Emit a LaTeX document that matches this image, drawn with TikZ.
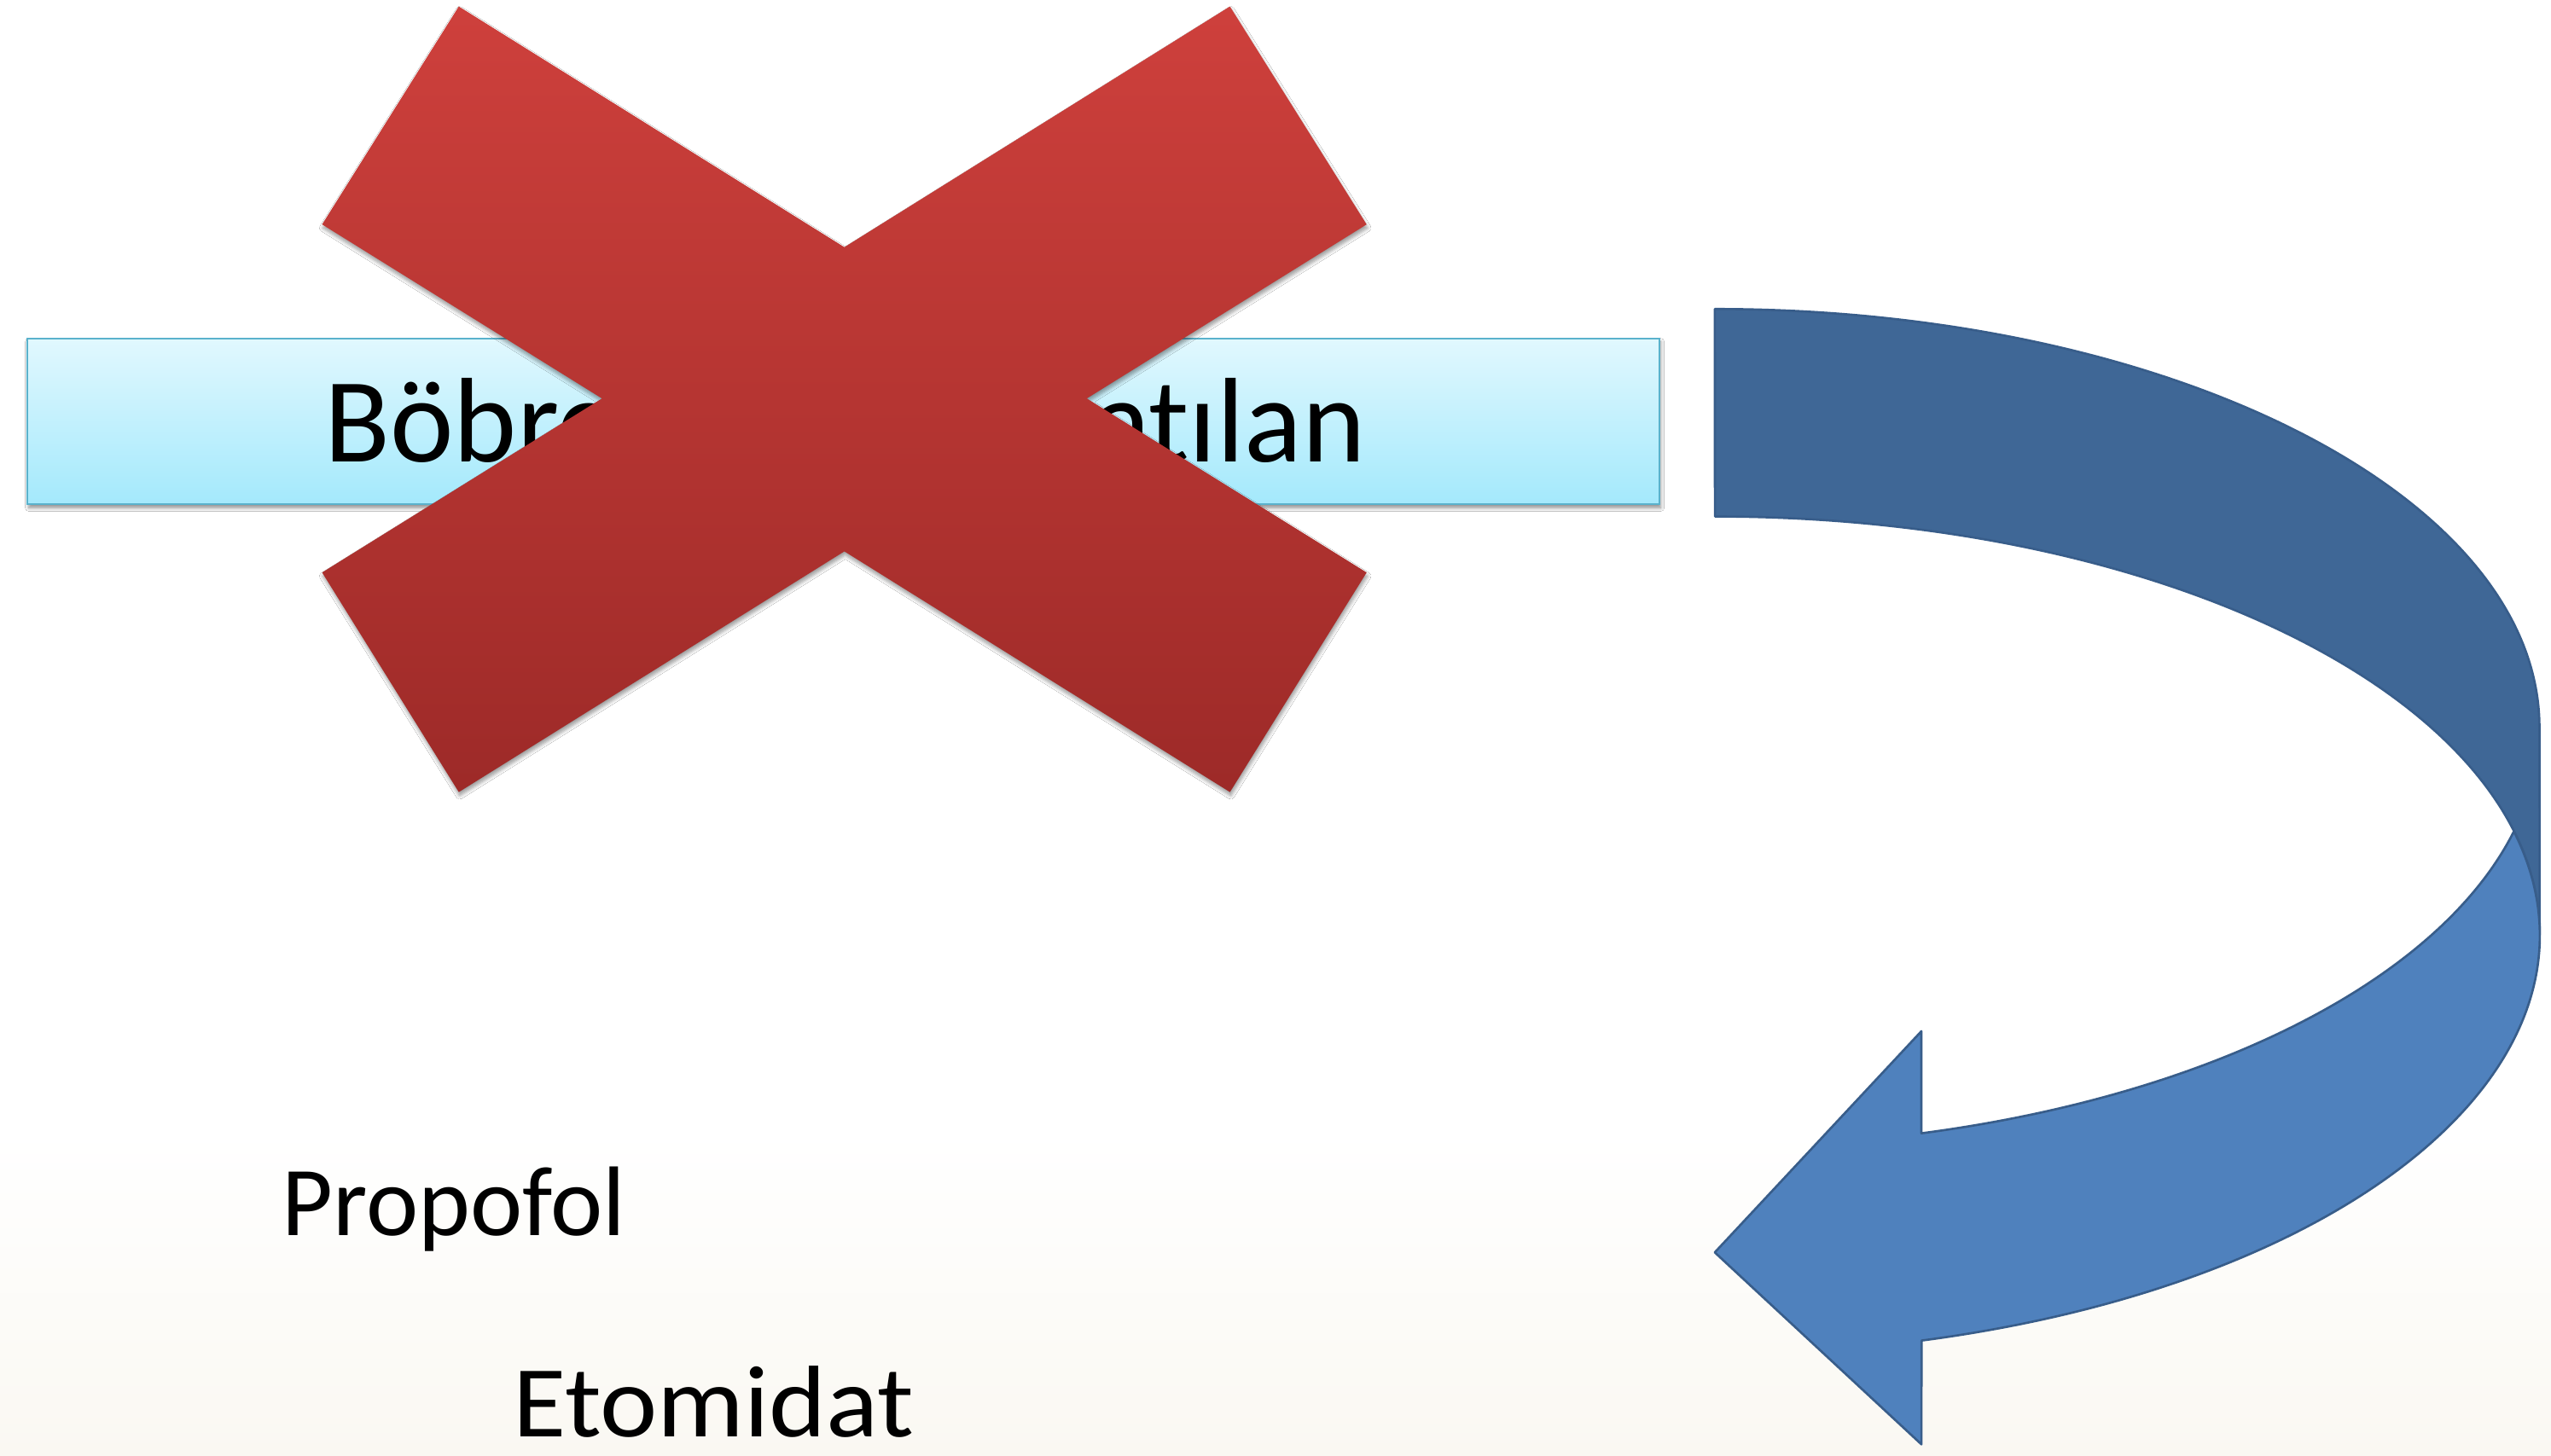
\documentclass[tikz,border=0pt]{standalone}
\usepackage{fontspec}
\setmainfont{Carlito}[Ligatures={NoCommon}]
\usetikzlibrary{shadows.blur}
\definecolor{bgbot}{RGB}{250,248,242}
\definecolor{boxtop}{RGB}{225,248,254}
\definecolor{boxbot}{RGB}{164,233,252}
\definecolor{boxline}{RGB}{90,178,204}
\definecolor{xtop}{RGB}{206,64,60}
\definecolor{xbot}{RGB}{157,42,40}
\definecolor{arrdark}{RGB}{63,103,150}
\definecolor{arrlight}{RGB}{79,129,189}
\definecolor{arrline}{RGB}{56,93,138}
\begin{document}
\begin{tikzpicture}[x=0.0190689cm, y=0.0190689cm,
  boxstyle/.style={draw=boxline, line width=0.6pt, top color=boxtop, bottom color=boxbot,
    blur shadow={shadow xshift=0.4pt, shadow yshift=-1.2pt, shadow blur radius=1.2pt, shadow blur steps=6, shadow opacity=45}},
  crossstyle/.style={top color=xtop, bottom color=xbot,
    blur shadow={shadow xshift=0.3pt, shadow yshift=-1.2pt, shadow blur radius=1.2pt, shadow blur steps=6, shadow opacity=40}},
  darkpart/.style={draw=arrline, fill=arrdark, line width=0.75pt, line join=round},
  lightpart/.style={draw=arrline, fill=arrlight, line width=0.75pt, line join=round},
  txt/.style={inner sep=0pt, text=black}]
\def\rx{9.66793cm}
\def\ry{4.91024cm}
\useasboundingbox (0,0) rectangle (1568,895);
\fill[white] (0,0) rectangle (1568,895);
\shade[top color=white, bottom color=bgbot] (0,0) rectangle (1568,200);

% blue box
\path[boxstyle] (17,585) rectangle (1020,687);
\node[txt, anchor=base, font=\fontsize{40.2}{48}\selectfont] (lbl) at (519.5,611) {Böbrek yoluyla\hspace{15pt}atılan};

% red cross
\path[crossstyle] (282,891) -- (519,743) -- (756,891) -- (840,757) -- (668,650) -- (840,543)
  -- (756,408) -- (519,556) -- (282,408) -- (198,543) -- (370,650) -- (198,757) -- cycle;

% texts
\node[txt, anchor=base west, font=\fontsize{33}{40}\selectfont] (prop) at (173,135.5) {Propofol};
\node[txt, anchor=base west, font=\fontsize{34}{41}\selectfont, xscale=1.067, transform shape] (etom) at (315,11.5) {Etomidat};

% curved arrow: back (dark) part
\path[darkpart] (1054,705) arc[start angle=90, end angle=0, x radius=\rx, y radius=\ry]
  -- (1561,320) arc[start angle=0, end angle=90, x radius=\rx, y radius=\ry] -- cycle;
% front (light) part
\path[lightpart] (1545.22,383.75) arc[start angle=14.333, end angle=-75.49, x radius=\rx, y radius=\ry]
  -- (1181,7) -- (1054,125) -- (1181,261) -- (1181,198.22)
  arc[start angle=-75.49, end angle=-14.333, x radius=\rx, y radius=\ry] -- cycle;
\end{tikzpicture}
\end{document}
